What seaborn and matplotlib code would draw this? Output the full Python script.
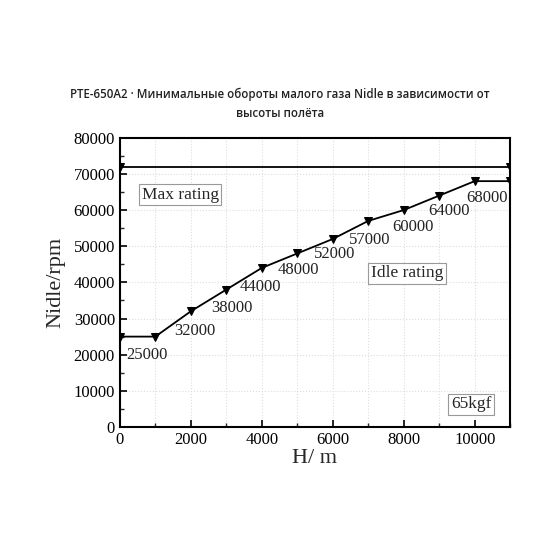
import numpy as np
import pandas as pd
import matplotlib
matplotlib.use("Agg")
import matplotlib.pyplot as plt
from matplotlib.ticker import MultipleLocator
import seaborn as sns

# Data
altitude = [0, 1000, 2000, 3000, 4000, 5000, 6000, 7000, 8000, 9000, 10000, 11000]
idle_rpm = [25000, 25000, 32000, 38000, 44000, 48000, 52000, 57000, 60000, 64000, 68000, 68000]
max_altitude = [0, 11000]
max_rpm = [72000, 72000]
labelled = [25000, 32000, 38000, 44000, 48000, 52000, 57000, 60000, 64000, 68000]

title = "PTE-650A2 · Минимальные обороты малого газа Nidle в зависимости от\nвысоты полёта"

sns.set_theme(style="ticks")
plt.rcParams['font.family'] = ['Liberation Serif', 'DejaVu Serif']
plt.rcParams['xtick.direction'] = 'in'
plt.rcParams['ytick.direction'] = 'in'

df_idle = pd.DataFrame({"H": altitude, "N": idle_rpm})
df_max = pd.DataFrame({"H": max_altitude, "N": max_rpm})

fig = plt.figure(figsize=(5.6, 5.6), dpi=100)
ax = fig.add_axes([0.214, 0.2375, 0.697, 0.5165])

sns.lineplot(data=df_idle, x="H", y="N", ax=ax, color="black", lw=1.3,
             marker="v", markersize=6, markeredgecolor="black")
sns.lineplot(data=df_max, x="H", y="N", ax=ax, color="black", lw=1.3,
             marker="v", markersize=6, markeredgecolor="black")

# point value labels (x = 1000 .. 10000), offsets in points
offs = [(-6, -13), (3, -14), (4, -13.5), (-1, -14), (1, -12), (1, -11), (1, -14), (7, -12), (7, -11), (9, -12)]
for h, n, o in zip(altitude[1:11], labelled, offs):
    ax.annotate(f"{n}", (h, n), xytext=o, textcoords="offset points",
                ha="center", va="center", fontsize=12, color="#222222")

box = dict(boxstyle="square,pad=0.15", fc="white", ec="#999999", lw=0.8)
ax.text(1700, 64300, "Max rating", fontsize=12.5, ha="center", va="center", bbox=box)
ax.text(8100, 42500, "Idle rating", fontsize=12.5, ha="center", va="center", bbox=box)
ax.text(9900, 6300, "65kgf", fontsize=12.5, ha="center", va="center", bbox=box)

ax.set_xlim(0, 11000)
ax.set_ylim(0, 80000)
ax.xaxis.set_major_locator(MultipleLocator(2000))
ax.xaxis.set_minor_locator(MultipleLocator(1000))
ax.yaxis.set_major_locator(MultipleLocator(10000))
ax.yaxis.set_minor_locator(MultipleLocator(5000))
ax.tick_params(which="major", length=5, width=1.2, labelsize=12, colors="black")
ax.tick_params(which="minor", length=3, width=1.0)
ax.grid(which="major", color="#dddddd", ls=":", lw=0.8)
ax.grid(which="minor", axis="x", color="#dddddd", ls=":", lw=0.8)
for s in ax.spines.values():
    s.set_linewidth(1.5)
    s.set_color("black")

ax.set_xlabel("H/ m", fontsize=16, labelpad=1)
ax.set_ylabel("Nidle/rpm", fontsize=16, labelpad=6)

fig.text(0.5, 0.815, title, ha="center", va="center", fontsize=8.3, weight=600,
         family=["Open Sans", "DejaVu Sans"], color="#222222", linespacing=1.55)

fig.savefig("out.png", dpi=100)
